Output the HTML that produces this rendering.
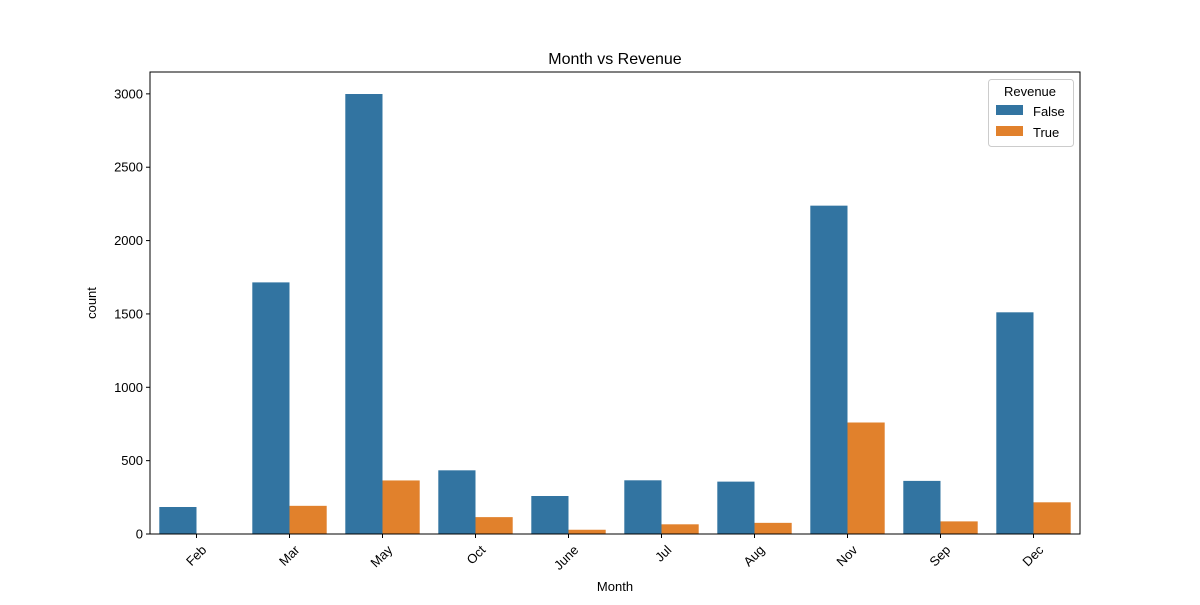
<!DOCTYPE html>
<html><head><meta charset="utf-8"><style>
body{margin:0;background:#fff;}
svg text{font-family:"Liberation Sans","DejaVu Sans",sans-serif;fill:#000;}
</style></head><body>
<svg id="chart" width="1200" height="600">
<text x="615" y="64" font-size="16" text-anchor="middle">Month vs Revenue</text>
<g id="bars"></g>
<g id="axes"></g>
<text x="615" y="591" font-size="13" text-anchor="middle">Month</text>
<text transform="translate(96,303) rotate(-90)" font-size="13" text-anchor="middle">count</text>
<g>
<rect x="988.5" y="79.5" width="85" height="67" fill="#fff" stroke="#ccc" rx="3"/>
<text x="1030" y="96" font-size="13" text-anchor="middle">Revenue</text>
<rect x="996" y="105" width="27" height="10" fill="#3274a1"/>
<text x="1033" y="116" font-size="13">False</text>
<rect x="996" y="126" width="27" height="10" fill="#e1812c"/>
<text x="1033" y="137" font-size="13">True</text>
</g>
</svg>
<script>
const categories=["Feb","Mar","May","Oct","June","Jul","Aug","Nov","Sep","Dec"];
const falseValues=[184,1715,2999,434,259,366,357,2238,362,1511];
const trueValues=[3,192,365,115,29,66,76,760,86,216];
const yTicks=[0,500,1000,1500,2000,2500,3000];
const NS="http://www.w3.org/2000/svg";
const L=150,R=1080,T=72,B=534,YMAX=3149;
const band=(R-L)/categories.length;
const y=v=>B-v/YMAX*(B-T);
const xc=i=>L+band*(i+0.5);
function mk(tag,attrs,parent){const e=document.createElementNS(NS,tag);for(const k in attrs)e.setAttribute(k,attrs[k]);parent.appendChild(e);return e;}
const bars=document.getElementById('bars'),axes=document.getElementById('axes');
const bw=band*0.4;
categories.forEach((c,i)=>{
 const f=mk('rect',{x:xc(i)-bw,y:y(falseValues[i]),width:bw,height:B-y(falseValues[i]),fill:'#3274a1'},bars);
 
 
 const t=mk('rect',{x:xc(i),y:y(trueValues[i]),width:bw,height:B-y(trueValues[i]),fill:'#e1812c'},bars);
 
 
 mk('line',{x1:xc(i),x2:xc(i),y1:B,y2:B+4,stroke:'#000'},axes);
 const lb=mk('text',{transform:`translate(${xc(i)+4},${B+10}) rotate(-45)`,'font-size':13,'text-anchor':'end','dominant-baseline':'hanging'},axes);
 lb.textContent=c;
 
 
});
yTicks.forEach(v=>{
 mk('line',{x1:L-4,x2:L,y1:y(v),y2:y(v),stroke:'#000'},axes);
 const t=mk('text',{x:L-7,y:y(v)+4.5,'font-size':13,'text-anchor':'end'},axes);
 t.textContent=v;
 
 
});
const fr=mk('rect',{x:L,y:T,width:R-L,height:B-T,fill:'none',stroke:'#000','stroke-width':1},axes);


</script>
</body></html>
